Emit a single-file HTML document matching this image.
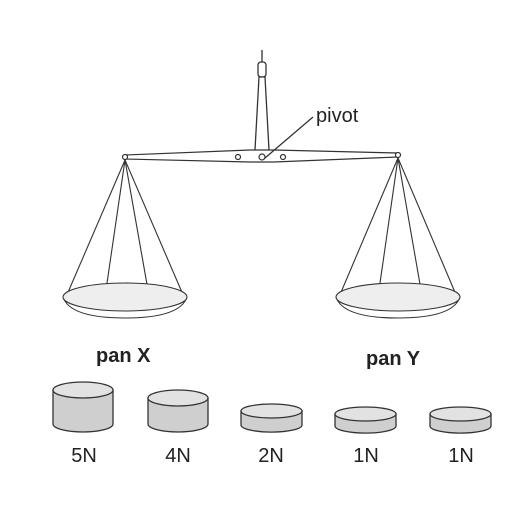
<!DOCTYPE html>
<html><head><style>
html,body{margin:0;padding:0;background:#fff}
svg{display:block}
text{font-family:"Liberation Sans",Arial,sans-serif;fill:#222}
</style></head><body>
<svg width="512" height="512" viewBox="0 0 512 512">
<g stroke="#333" fill="#fff" stroke-width="1.3">
<line x1="262" y1="50" x2="262" y2="62"/>
<rect x="258" y="62" width="8" height="15" rx="3"/>
<path d="M259 77 L255 150 Q262 164 269 150 L265 77 Z"/>
</g>
<g stroke="#333" fill="#fff" stroke-width="1.2">
<path d="M125 155 L250 150 L274 150 L398 153 L398 157 L274 162 L250 162 L125 159 Z"/>
<circle cx="125" cy="157" r="2.5"/>
<circle cx="398" cy="155" r="2.5"/>
<circle cx="238" cy="157" r="2.5"/>
<circle cx="283" cy="157" r="2.5"/>
<circle cx="262" cy="157" r="3"/>
</g>
<g>
<line x1="313" y1="117" x2="265" y2="158" stroke="#333" stroke-width="1.3"/>
<text x="316" y="122" font-size="20">pivot</text>
</g>
<g stroke="#333" stroke-width="1.1" fill="none">
<line x1="125" y1="160" x2="66" y2="297"/>
<line x1="125" y1="160" x2="184" y2="297"/>
<line x1="125" y1="160" x2="106" y2="290"/>
<line x1="125" y1="160" x2="148" y2="290"/>
<path d="M63 297 Q70 318 125 318 Q180 318 187 297" fill="#fff"/>
<ellipse cx="125" cy="297" rx="62" ry="14" fill="#eee"/>
</g>
<g stroke="#333" stroke-width="1.1" fill="none">
<line x1="398" y1="158" x2="339" y2="297"/>
<line x1="398" y1="158" x2="457" y2="297"/>
<line x1="398" y1="158" x2="379" y2="290"/>
<line x1="398" y1="158" x2="421" y2="290"/>
<path d="M336 297 Q343 318 398 318 Q453 318 460 297" fill="#fff"/>
<ellipse cx="398" cy="297" rx="62" ry="14" fill="#eee"/>
</g>
<text x="96" y="362" font-size="20" font-weight="bold">pan X</text>
<text x="366" y="365" font-size="20" font-weight="bold">pan Y</text>
<g stroke="#333" stroke-width="1.3" fill="#cfcfcf">
<g>
<path d="M53 390 L53 424 A30 8 0 0 0 113 424 L113 390 Z"/>
<ellipse cx="83" cy="390" rx="30" ry="8" fill="#e2e2e2"/>
</g>
<g>
<path d="M148 398 L148 424 A30 8 0 0 0 208 424 L208 398 Z"/>
<ellipse cx="178" cy="398" rx="30" ry="8" fill="#e2e2e2"/>
</g>
<g>
<path d="M241 411 L241 425 A30 7 0 0 0 302 425 L302 411 Z"/>
<ellipse cx="271.5" cy="411" rx="30.5" ry="7" fill="#e2e2e2"/>
</g>
<g>
<path d="M335 414 L335 426 A30 7 0 0 0 396 426 L396 414 Z"/>
<ellipse cx="365.5" cy="414" rx="30.5" ry="7" fill="#e2e2e2"/>
</g>
<g>
<path d="M430 414 L430 426 A30 7 0 0 0 491 426 L491 414 Z"/>
<ellipse cx="460.5" cy="414" rx="30.5" ry="7" fill="#e2e2e2"/>
</g>
</g>
<g font-size="20" text-anchor="middle">
<text x="84" y="462">5N</text>
<text x="178" y="462">4N</text>
<text x="271" y="462">2N</text>
<text x="366" y="462">1N</text>
<text x="461" y="462">1N</text>
</g>
</svg>
</body></html>
